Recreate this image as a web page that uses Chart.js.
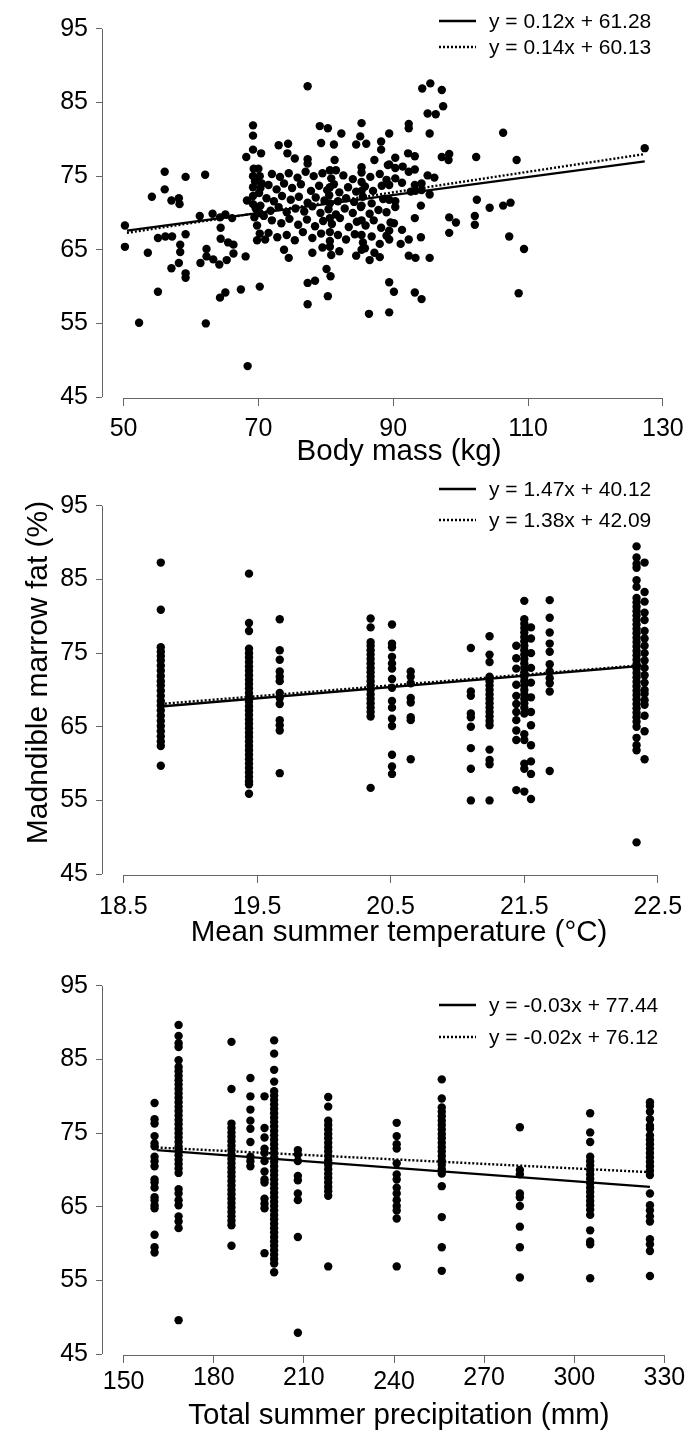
<!DOCTYPE html>
<html>
<head>
<meta charset="utf-8">
<title>Mandible marrow fat</title>
<script src="https://cdn.jsdelivr.net/npm/chart.js@4.4.1/dist/chart.umd.min.js"></script>
<style>
  html, body { margin: 0; padding: 0; background: #fff; }
  .panel { position: absolute; left: 0; width: 692px; height: 479px; }
</style>
</head>
<body>
<div class="panel" style="top:0"><canvas id="massChart" width="692" height="479"></canvas></div>
<div class="panel" style="top:477px"><canvas id="tempChart" width="692" height="479"></canvas></div>
<div class="panel" style="top:957px"><canvas id="precipChart" width="692" height="479"></canvas></div>
<script>
// ----- tick labels -----
const fatTicks = [45, 55, 65, 75, 85, 95];
const massTicks = [50, 70, 90, 110, 130];
const tempTicks = [18.5, 19.5, 20.5, 21.5, 22.5];
const precipTicks = [150, 180, 210, 240, 270, 300, 330];

// ----- body mass panel: [kg, fat %] -----
const massPoints = [
  [50.2,68.3],[50.2,65.4],[52.3,55.1],[53.6,64.6],[54.2,72.2],[55.1,66.6],[55.1,59.3],[56.1,75.6],[56.1,73.2],[56.2,66.8],
  [57.1,71.7],[57.2,66.8],[57.1,62.5],[58.2,72.0],[58.3,71.2],[58.4,65.7],[58.4,64.7],[58.2,63.2],[59.2,74.9],[59.2,67.1],
  [59.2,61.8],[59.2,61.2],[61.3,69.6],[62.1,75.2],[62.3,65.1],[62.3,64.1],[61.4,63.2],[62.2,55.0],[63.2,69.9],[63.3,63.7],
  [64.3,69.4],[64.4,68.0],[64.4,66.5],[64.2,63.0],[64.3,58.5],[65.1,69.8],[65.5,66.0],[65.3,63.6],[65.1,59.2],[66.1,69.3],
  [66.3,65.7],[66.3,64.5],[67.4,59.6],[68.1,64.1],[68.3,71.7],[68.2,77.6],[68.4,49.2],
  [69.2,81.9],[69.2,80.5],[69.2,78.6],[70.4,78.1],[69.3,76.0],[70.0,76.0],[69.2,75.0],[70.2,75.0],[69.5,74.3],[70.5,74.0],
  [69.2,73.5],[70.3,73.4],[69.2,72.3],[70.1,72.7],[69.2,71.2],[70.3,71.0],[69.6,70.6],[70.2,70.0],[69.4,69.4],[70.8,69.6],
  [69.8,68.3],[70.2,67.2],[69.8,66.3],[71.0,66.4],[70.2,60.0],
  [72.0,75.3],[73.2,74.9],[74.5,75.4],[75.8,74.8],[77.0,75.6],[78.2,75.0],[79.5,75.4],[80.8,74.7],[81.5,75.8],[82.6,75.1],
  [84.0,74.6],[85.3,75.5],[86.6,74.9],[88.0,75.3],[89.0,74.5],
  [71.5,73.8],[72.7,73.2],[73.8,74.0],[75.0,73.4],[76.3,73.9],[77.8,73.0],[79.0,73.7],[80.2,73.1],[81.2,73.9],[82.0,72.8],
  [83.3,73.5],[84.5,72.9],[85.8,73.6],[87.0,73.0],[88.3,73.7],
  [71.2,72.0],[72.3,71.6],[73.5,72.3],[74.8,71.8],[76.0,72.2],[77.3,71.4],[78.5,72.1],[79.8,71.7],[80.5,72.4],[81.8,71.6],
  [83.0,72.0],[84.2,71.5],[85.5,72.2],[86.8,71.3],[88.5,71.9],
  [71.8,70.3],[73.0,70.8],[74.2,70.1],[75.5,70.6],[76.8,70.2],[78.0,70.9],[79.2,70.0],[80.4,70.5],[81.5,69.8],[82.8,70.6],
  [84.0,70.0],[85.2,70.8],[86.5,69.9],[87.8,70.4],[89.0,70.1],
  [72.0,69.0],[73.4,68.6],[74.6,69.2],[75.9,68.4],[77.2,69.1],[78.4,68.2],[79.6,68.9],[80.9,68.5],[82.1,69.3],[83.4,68.1],
  [84.6,68.8],[85.9,68.3],[87.1,69.0],[88.2,68.0],[89.6,68.7],
  [71.5,67.3],[72.8,66.7],[74.2,67.0],[75.4,66.3],[76.6,67.4],[78.0,66.6],[79.3,67.2],[80.6,66.2],[81.8,67.0],[83.0,66.4],
  [84.3,67.1],[85.5,66.0],[86.8,66.8],[88.0,65.8],[89.0,66.9],
  [73.8,65.0],[74.5,63.9],[78.0,64.6],[79.5,65.3],[80.8,64.3],[82.0,64.8],[84.5,64.2],[85.8,65.2],[87.2,64.6],[86.5,63.6],
  [88.0,64.0],
  [80.6,75.8],[80.6,73.5],[80.6,71.3],[80.6,69.3],[80.6,67.4],[80.6,65.4],
  [85.3,76.2],[85.3,74.2],[85.3,73.0],[85.3,71.0],[85.3,69.0],[85.3,67.0],[85.3,65.0],
  [80.1,62.4],[80.7,61.4],[77.3,60.5],[78.4,60.8],[80.3,58.7],[77.3,57.6],[86.4,56.3],
  [79.1,81.8],[80.3,81.5],[82.3,80.8],[85.3,82.2],[85.1,80.4],[84.5,79.3],[86.0,79.4],[88.2,79.7],[88.2,78.6],[73.0,79.2],
  [74.4,79.4],[74.3,78.1],[75.4,77.4],[77.3,77.3],[77.3,76.7],[79.3,79.5],[81.2,79.3],[81.3,77.2],[87.2,77.2],[89.2,76.5],
  [77.3,87.2],
  [94.3,86.9],[95.5,87.6],[97.2,86.7],[97.4,84.5],[95.1,83.5],[96.3,83.4],[92.3,82.1],[92.3,81.5],[95.4,80.8],[89.4,80.8],
  [106.3,80.9],[127.3,78.8],[92.2,78.1],[93.2,77.7],[90.3,77.5],[97.2,77.6],[98.3,78.0],[98.2,77.2],[102.3,77.6],[108.3,77.2],
  [89.4,76.6],[90.3,76.1],[91.4,76.3],[92.3,75.6],[93.2,75.9],[95.1,75.1],[96.1,74.8],[90.3,74.7],[91.3,74.1],[89.4,73.8],
  [93.2,73.8],[94.2,74.0],[93.3,73.0],[92.6,72.9],[94.2,73.1],[95.4,72.5],[89.4,71.8],[90.3,71.6],[90.3,70.8],[94.1,71.0],
  [102.4,71.8],[104.3,70.7],[106.3,71.0],[107.4,71.4],[93.2,69.3],[98.3,69.4],[99.3,68.7],[102.1,69.6],[102.1,68.4],[98.3,67.3],
  [90.1,68.6],[89.4,67.6],[91.3,67.7],[89.4,66.4],[91.1,65.8],[92.3,66.4],[94.1,66.7],[107.2,66.8],[109.4,65.1],[92.3,64.2],
  [93.3,63.9],[95.4,63.9],[89.4,60.6],[90.1,59.3],[93.2,59.2],[94.2,58.3],[108.6,59.1],[89.4,56.5]
];
const massFitSolid = [[50.5, 67.6], [127.3, 77.0]];
const massFitDotted = [[50.5, 67.3], [127.3, 78.0]];
const massLegend = ['y = 0.12x + 61.28', 'y = 0.14x + 60.13'];

// ----- temperature panel: one column of fat values per temperature -----
const tempColumns = [18.78, 19.44, 19.67, 20.35, 20.51, 20.65, 21.10, 21.24, 21.44, 21.50, 21.55, 21.69, 22.34, 22.40];
const tempFat = [
  [87.3, 80.9, 75.8, 75.2, 74.6, 74.0, 73.3, 72.6, 71.9, 71.2, 70.6, 69.9, 69.2, 68.5, 67.9, 67.2, 66.5, 65.8, 65.1, 64.4, 63.7, 63.0, 62.4, 59.7],
  [85.8, 79.1, 78.0, 75.6, 75.0, 74.4, 73.8, 73.2, 72.6, 72.0, 71.4, 70.8, 70.2, 69.6, 69.0, 68.4, 67.8, 67.2, 66.6, 66.0, 65.4, 64.8, 64.2, 63.6, 63.0, 62.4, 61.8, 61.2, 60.6, 60.0, 59.4, 58.8, 58.2, 57.6, 57.2, 55.9],
  [79.6, 75.4, 74.1, 72.5, 71.8, 71.2, 69.6, 68.9, 68.1, 65.9, 65.2, 64.5, 58.7],
  [79.7, 78.5, 76.5, 76.0, 75.4, 74.8, 74.2, 73.6, 73.0, 72.4, 71.8, 71.2, 70.6, 70.0, 69.4, 68.8, 68.2, 67.6, 67.0, 66.4, 56.7],
  [78.9, 76.3, 75.8, 74.5, 73.6, 72.9, 71.5, 70.3, 68.5, 67.6, 66.1, 65.1, 61.2, 59.6, 58.6],
  [72.5, 71.8, 70.9, 68.9, 68.3, 66.3, 65.9, 60.6],
  [75.7, 69.8, 69.2, 66.8, 66.3, 65.0, 62.1, 59.3, 55.0],
  [77.3, 74.8, 73.8, 71.8, 71.2, 70.6, 70.0, 69.4, 68.8, 68.2, 67.6, 67.0, 66.4, 65.8, 65.2, 61.9, 60.5, 59.9, 55.0],
  [76.0, 74.3, 72.9, 70.7, 69.2, 68.1, 67.0, 65.9, 64.5, 63.2, 56.4],
  [82.1, 79.6, 79.0, 78.4, 77.8, 77.2, 76.6, 76.0, 75.4, 74.8, 74.2, 73.6, 73.0, 72.4, 71.8, 71.2, 70.6, 70.0, 69.4, 68.8, 68.2, 67.6, 66.8, 64.0, 63.2, 60.0, 59.3, 56.2],
  [78.5, 77.0, 75.0, 73.0, 71.0, 69.0, 67.0, 65.2, 62.5, 60.3, 58.6, 55.2],
  [82.2, 79.8, 77.8, 76.3, 75.2, 73.5, 72.5, 71.6, 70.9, 69.8, 59.0],
  [89.5, 88.0, 87.1, 86.6, 84.9, 84.0, 82.5, 81.9, 81.3, 80.7, 80.1, 79.5, 78.9, 78.3, 77.7, 77.1, 76.5, 75.9, 75.3, 74.7, 74.1, 73.5, 72.9, 72.3, 71.7, 71.1, 70.5, 69.9, 69.3, 68.7, 68.1, 67.5, 66.9, 66.3, 65.7, 65.0, 63.5, 62.5, 61.8, 49.3],
  [87.3, 83.3, 82.0, 80.5, 79.5, 78.0, 77.0, 76.0, 75.0, 74.0, 73.0, 72.0, 71.0, 70.0, 69.5, 68.6, 68.0, 66.5, 64.4, 60.6]
];
const tempFitSolid = [[18.78, 67.75], [22.40, 73.3]];
const tempFitDotted = [[18.78, 68.1], [22.40, 73.4]];
const tempLegend = ['y = 1.47x + 40.12', 'y = 1.38x + 42.09'];

// ----- precipitation panel -----
const precipColumns = [160.3, 168.3, 185.9, 192.2, 196.9, 200.1, 208.0, 218.1, 240.9, 255.9, 281.9, 305.3, 325.2];
const precipFat = [
  [79.1, 76.9, 76.3, 74.6, 73.6, 73.2, 71.8, 71.2, 70.5, 68.7, 68.3, 67.6, 66.3, 65.9, 65.2, 64.8, 61.2, 59.5, 58.8],
  [89.7, 88.2, 87.2, 86.7, 84.9, 84.0, 83.4, 82.8, 82.2, 81.6, 81.0, 80.4, 79.8, 79.2, 78.6, 78.0, 77.4, 76.8, 76.2, 75.6, 75.0, 74.4, 73.8, 73.2, 72.6, 72.0, 71.4, 70.8, 70.2, 69.6, 67.4, 66.8, 65.9, 65.2, 63.7, 63.0, 62.1, 49.6],
  [87.4, 81.0, 76.3, 75.7, 75.1, 74.5, 73.9, 73.3, 72.7, 72.1, 71.5, 70.9, 70.3, 69.7, 69.1, 68.5, 67.9, 67.3, 66.7, 66.1, 65.5, 64.9, 64.3, 63.7, 63.1, 62.5, 59.7],
  [82.5, 80.0, 78.2, 76.7, 75.6, 73.8, 71.8, 71.2, 70.5],
  [80.0, 75.7, 74.4, 72.9, 72.3, 71.2, 69.8, 68.7, 68.3, 66.1, 65.4, 64.8, 58.7],
  [87.6, 85.8, 83.6, 82.0, 80.7, 80.1, 79.5, 78.9, 78.3, 77.7, 77.1, 76.5, 75.9, 75.3, 74.7, 74.1, 73.5, 72.9, 72.3, 71.7, 71.1, 70.5, 69.9, 69.3, 68.7, 68.1, 67.5, 66.9, 66.3, 65.7, 65.1, 64.5, 63.9, 63.3, 62.7, 62.1, 61.5, 60.9, 60.3, 59.7, 59.1, 58.5, 57.9, 57.3, 56.1],
  [72.7, 72.1, 71.2, 69.2, 68.6, 66.8, 65.9, 60.9, 47.9],
  [79.9, 78.6, 76.7, 76.1, 75.5, 74.9, 74.3, 73.7, 73.1, 72.5, 71.9, 71.3, 70.7, 70.1, 69.5, 68.9, 68.3, 67.7, 67.1, 66.5, 56.9],
  [76.4, 74.6, 73.5, 72.9, 70.9, 69.4, 68.7, 67.6, 66.8, 65.9, 65.1, 64.5, 63.4, 56.9],
  [82.3, 79.7, 78.5, 77.9, 77.3, 76.7, 76.1, 75.5, 74.9, 74.3, 73.7, 73.1, 72.5, 71.9, 71.3, 70.7, 70.1, 69.5, 67.8, 63.6, 59.5, 56.3],
  [75.8, 70.0, 69.4, 66.8, 66.3, 65.1, 62.3, 59.5, 55.4],
  [77.7, 75.1, 73.8, 71.8, 71.2, 70.6, 70.0, 69.4, 68.8, 68.2, 67.6, 67.0, 66.4, 65.8, 65.2, 64.6, 63.9, 61.8, 60.3, 59.9, 55.3],
  [79.2, 78.7, 77.9, 76.9, 76.0, 75.6, 74.7, 74.1, 73.5, 72.9, 72.3, 71.7, 71.1, 70.5, 69.9, 69.3, 66.8, 65.2, 64.5, 63.7, 63.0, 60.6, 59.9, 59.0, 55.6]
];
const precipFitSolid = [[161.0, 72.7], [325.2, 67.7]];
const precipFitDotted = [[161.0, 73.05], [325.2, 69.7]];
const precipLegend = ['y = -0.03x + 77.44', 'y = -0.02x + 76.12'];

// ----- shared look -----
const FONT = "'Liberation Sans', Arial, Helvetica, sans-serif";
const axisGrey = '#666';

// columns -> flat [x, y] list
const fromColumns = (cols, vals) => cols.flatMap((c, i) => vals[i].map(v => [c, v]));

// R-style axes, legend and titles
const panelDeco = {
  id: 'panelDeco',
  afterDraw(chart, args, opts) {
    const { ctx, chartArea, scales: { x, y } } = chart;
    ctx.save();

    // axis lines run only from first to last tick
    ctx.strokeStyle = axisGrey;
    ctx.lineWidth = 1;
    ctx.beginPath();
    const by = Math.round(chartArea.bottom) + 0.5;
    ctx.moveTo(x.getPixelForValue(x.ticks[0].value), by);
    ctx.lineTo(x.getPixelForValue(x.ticks[x.ticks.length - 1].value), by);
    const lx = Math.round(chartArea.left) + 0.5;
    ctx.moveTo(lx, y.getPixelForValue(y.ticks[0].value));
    ctx.lineTo(lx, y.getPixelForValue(y.ticks[y.ticks.length - 1].value));
    ctx.stroke();

    // legend
    ctx.strokeStyle = '#000';
    ctx.fillStyle = '#000';
    ctx.font = `21px ${FONT}`;
    ctx.textAlign = 'left';
    ctx.textBaseline = 'middle';
    opts.legendRows.forEach((rowY, i) => {
      ctx.beginPath();
      ctx.lineWidth = 2.5;
      ctx.setLineDash(i === 0 ? [] : [2, 2]);
      ctx.moveTo(439, rowY);
      ctx.lineTo(476, rowY);
      ctx.stroke();
      ctx.setLineDash([]);
      ctx.fillText(opts.legendLabels[i], 489, rowY + 1);
    });

    // x title
    ctx.font = `29.5px ${FONT}`;
    ctx.textAlign = 'center';
    ctx.textBaseline = 'alphabetic';
    ctx.fillText(opts.xTitle, 399, opts.xTitleY);

    // y title (middle panel only)
    if (opts.yTitle) {
      ctx.translate(38.5, 195.5);
      ctx.rotate(-Math.PI / 2);
      ctx.textBaseline = 'middle';
      ctx.font = `30px ${FONT}`;
      ctx.fillText(opts.yTitle, 0, 0);
    }
    ctx.restore();
  }
};

function buildPanel(id, p) {
  const ctx = document.getElementById(id).getContext('2d');
  const toXY = pts => pts.map(([x, y]) => ({ x, y }));
  return new Chart(ctx, {
    type: 'scatter',
    data: {
      datasets: [
        {
          data: toXY(p.points),
          pointRadius: 4.2,
          pointBackgroundColor: '#000',
          pointBorderWidth: 0,
          order: 3
        },
        {
          data: toXY(p.solid),
          showLine: true,
          borderColor: '#000',
          borderWidth: 2.4,
          pointRadius: 0,
          order: 2
        },
        {
          data: toXY(p.dotted),
          showLine: true,
          borderColor: '#000',
          borderWidth: 2.4,
          borderDash: [2, 2],
          pointRadius: 0,
          order: 1
        }
      ]
    },
    options: {
      responsive: false,
      animation: false,
      devicePixelRatio: 1,
      events: [],
      layout: { padding: { top: 14, right: 6, left: 0, bottom: 0 } },
      scales: {
        x: {
          type: 'linear',
          min: p.xMin,
          max: p.xMax,
          afterBuildTicks: s => { s.ticks = p.xTicks.map(v => ({ value: v })); },
          afterFit: s => { s.height = 81; },
          border: { display: false },
          grid: { drawOnChartArea: false, drawTicks: true, tickLength: 8, color: axisGrey, lineWidth: 1 },
          ticks: {
            autoSkip: false,
            maxRotation: 0,
            padding: p.tickPad,
            color: '#000',
            font: c => ({ family: FONT, size: 25, lineHeight: (p.dropTicks || []).includes(c.index) ? 1.56 : 1.2 }),
            callback: v => p.xFormat(v)
          }
        },
        y: {
          type: 'linear',
          min: 44.87,
          max: 95.8,
          afterBuildTicks: s => { s.ticks = fatTicks.map(v => ({ value: v })); },
          afterFit: s => { s.width = 102; },
          border: { display: false },
          grid: { drawOnChartArea: false, drawTicks: true, tickLength: 6, color: axisGrey, lineWidth: 1 },
          ticks: {
            autoSkip: false,
            padding: 8,
            color: '#000',
            font: { family: FONT, size: 25 },
            callback: v => String(v)
          }
        }
      },
      plugins: {
        legend: { display: false },
        tooltip: { enabled: false },
        panelDeco: {
          legendRows: p.legendRows,
          legendLabels: p.legend,
          xTitle: p.xTitle,
          xTitleY: p.xTitleY,
          yTitle: p.yTitle
        }
      }
    },
    plugins: [panelDeco]
  });
}

buildPanel('massChart', {
  points: massPoints, solid: massFitSolid, dotted: massFitDotted, legend: massLegend,
  xMin: 46.8, xMax: 133.2, xTicks: massTicks, xFormat: v => String(v),
  tickPad: 8, legendRows: [21, 47],
  xTitle: 'Body mass (kg)', xTitleY: 460
});

buildPanel('tempChart', {
  points: fromColumns(tempColumns, tempFat), solid: tempFitSolid, dotted: tempFitDotted, legend: tempLegend,
  xMin: 18.34, xMax: 22.66, xTicks: tempTicks, xFormat: v => v.toFixed(1),
  tickPad: 9.5, legendRows: [12, 43],
  xTitle: 'Mean summer temperature (°C)', xTitleY: 464,
  yTitle: 'Madndible marrow fat (%)'
});

buildPanel('precipChart', {
  points: fromColumns(precipColumns, precipFat), solid: precipFitSolid, dotted: precipFitDotted, legend: precipLegend,
  xMin: 142.8, xMax: 337.2, xTicks: precipTicks, xFormat: v => String(v),
  tickPad: 0, dropTicks: [0, 3], legendRows: [48, 80],
  xTitle: 'Total summer precipitation (mm)', xTitleY: 467
});
</script>
</body>
</html>
